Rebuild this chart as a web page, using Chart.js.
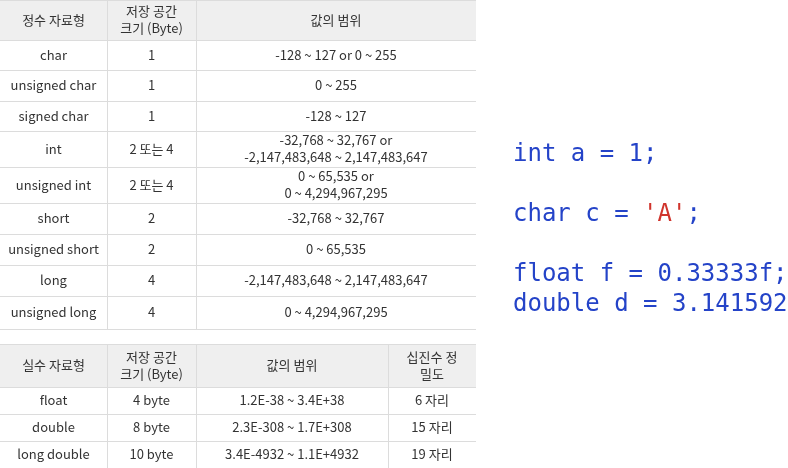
<!DOCTYPE html>
<html><head><meta charset="utf-8">
<script src="https://cdn.jsdelivr.net/npm/chart.js@4"></script>
<style>
html,body{margin:0;padding:0;background:#fff;width:788px;height:468px;overflow:hidden}
#wrap{position:absolute;left:0;top:0;width:788px;height:468px}
#code{position:absolute;left:513px;top:138px;font-family:"DejaVu Sans Mono",monospace;font-size:24px;color:#2443c8;line-height:30px;white-space:pre}
.s{color:#d0342c}
</style></head><body>
<div id="wrap"><canvas id="c" width="788" height="468"></canvas></div>
<div id="code">int a = 1;

char c = <span class="s">'A'</span>;

float f = 0.33333f;
double d = 3.141592;</div>
<script>
// Table 1: integer types
const intHeader = ["정수 자료형", "저장 공간\n크기 (Byte)", "값의 범위"];
const intTypes = ["char","unsigned char","signed char","int","unsigned int","short","unsigned short","long","unsigned long"];
const intSizes = ["1","1","1","2 또는 4","2 또는 4","2","2","4","4"];
const intRanges = ["-128 ~ 127 or 0 ~ 255","0 ~ 255","-128 ~ 127","-32,768 ~ 32,767 or\n-2,147,483,648 ~ 2,147,483,647","0 ~ 65,535 or\n0 ~ 4,294,967,295","-32,768 ~ 32,767","0 ~ 65,535","-2,147,483,648 ~ 2,147,483,647","0 ~ 4,294,967,295"];
// Table 2: floating types
const fltHeader = ["실수 자료형","저장 공간\n크기 (Byte)","값의 범위","십진수 정\n밀도"];
const fltTypes = ["float","double","long double"];
const fltSizes = ["4 byte","8 byte","10 byte"];
const fltRanges = ["1.2E-38 ~ 3.4E+38","2.3E-308 ~ 1.7E+308","3.4E-4932 ~ 1.1E+4932"];
const fltDigits = ["6 자리","15 자리","19 자리"];

const t1Cols=[0,107,196,476], t1Rows=[0,40,70,101,131,167,203,234,265,296,329];
const t2Cols=[0,107,196,388,476], t2Rows=[344,387,414,441,468];

function drawTable(ctx,xs,ys,cols,rows,cells){
  const X=v=>xs.getPixelForValue(v), Y=v=>ys.getPixelForValue(v);
  ctx.fillStyle="#efefef";
  ctx.fillRect(X(cols[0]),Y(rows[0]),X(cols[cols.length-1])-X(cols[0]),Y(rows[1])-Y(rows[0]));
  ctx.strokeStyle="#dcdcdc";ctx.lineWidth=1;
  for(const r of rows){ctx.beginPath();ctx.moveTo(X(cols[0]),Math.round(Y(r))+0.5);ctx.lineTo(X(cols[cols.length-1]),Math.round(Y(r))+0.5);ctx.stroke();}
  for(const c of cols.slice(1,-1)){ctx.beginPath();ctx.moveTo(Math.round(X(c))+0.5,Y(rows[0]));ctx.lineTo(Math.round(X(c))+0.5,Y(rows[rows.length-1]));ctx.stroke();}
  ctx.fillStyle="#333";ctx.textAlign="center";ctx.textBaseline="middle";
  ctx.font='13px "Noto Sans CJK KR","Noto Sans",sans-serif';
  cells.forEach((row,ri)=>row.forEach((txt,ci)=>{
    const cx=(X(cols[ci])+X(cols[ci+1]))/2, cy=(Y(rows[ri])+Y(rows[ri+1]))/2;
    const lines=txt.split("\n");
    lines.forEach((l,li)=>ctx.fillText(l,cx,cy+(li-(lines.length-1)/2)*17));
  }));
}
const tablePlugin={id:"tables",afterDraw(chart){
  const ctx=chart.ctx,xs=chart.scales.x,ys=chart.scales.y;
  ctx.save();
  const c1=[intHeader].concat(intTypes.map((t,i)=>[t,intSizes[i],intRanges[i]]));
  drawTable(ctx,xs,ys,t1Cols,t1Rows,c1);
  const c2=[fltHeader].concat(fltTypes.map((t,i)=>[t,fltSizes[i],fltRanges[i],fltDigits[i]]));
  drawTable(ctx,xs,ys,t2Cols,t2Rows,c2);
  ctx.restore();
}};
new Chart(document.getElementById("c"),{
  type:"scatter",
  data:{datasets:[{data:[]}]},
  options:{responsive:false,animation:false,layout:{padding:0},
    plugins:{legend:{display:false},tooltip:{enabled:false}},
    scales:{x:{type:"linear",min:0,max:788,display:false},y:{type:"linear",min:0,max:468,reverse:true,display:false}}},
  plugins:[tablePlugin]
});
</script>
</body></html>
